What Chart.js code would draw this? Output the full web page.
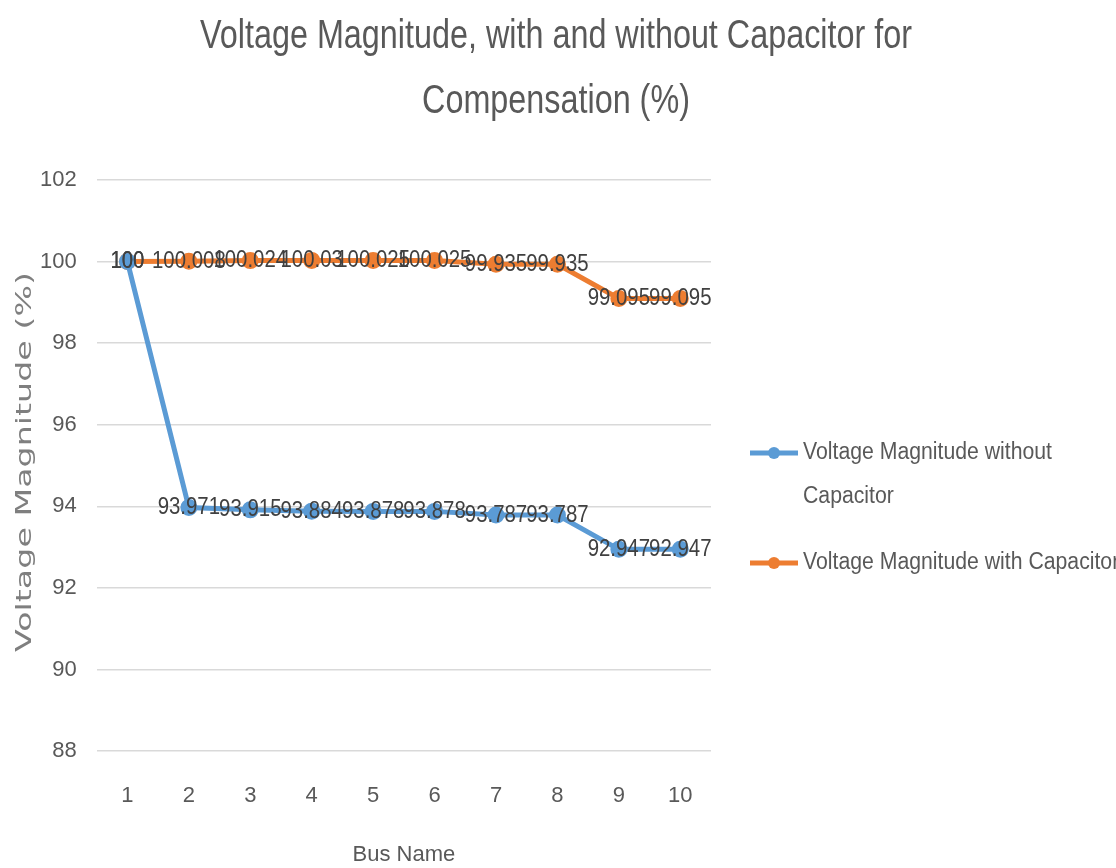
<!DOCTYPE html>
<html>
<head>
<meta charset="utf-8">
<script src="https://cdn.jsdelivr.net/npm/chart.js@4"></script>
<style>
  html, body { margin: 0; padding: 0; background: #fff; }
  #wrap { width: 1116px; height: 868px; }
</style>
</head>
<body>
<div id="wrap"><canvas id="voltageChart" width="1116" height="868"></canvas></div>
<script>
// values
const busNames = ['1', '2', '3', '4', '5', '6', '7', '8', '9', '10'];
const withoutCapacitor = [100, 93.971, 93.915, 93.884, 93.878, 93.878, 93.787, 93.787, 92.947, 92.947];
const withCapacitor = [100, 100.008, 100.024, 100.03, 100.025, 100.025, 99.935, 99.935, 99.095, 99.095];
const seriesNames = ['Voltage Magnitude without Capacitor', 'Voltage Magnitude with Capacitor'];
const legendLines = [['Voltage Magnitude without', 'Capacitor'], ['Voltage Magnitude with Capacitor']];
const titleLines = ['Voltage Magnitude, with and without Capacitor for', 'Compensation (%)'];
const yTitle = 'Voltage Magnitude (%)';

const sans = '"Liberation Sans", Arial, sans-serif';
const textGrey = '#595959';

// text squeezed sideways, the original uses a narrow font
function narrowText(ctx, text, x, y, sx) {
    ctx.save();
    ctx.translate(x, y);
    ctx.scale(sx, 1);
    ctx.fillText(text, 0, 0);
    ctx.restore();
}

// each point's value centred on the point, like the spreadsheet labels
const pointLabels = {
    id: 'pointLabels',
    afterDatasetsDraw(chart) {
        const ctx = chart.ctx;
        ctx.save();
        ctx.font = '24px ' + sans;
        ctx.fillStyle = '#404040';
        ctx.textAlign = 'center';
        ctx.textBaseline = 'middle';
        chart.data.datasets.forEach((ds, i) => {
            chart.getDatasetMeta(i).data.forEach((pt, j) => {
                narrowText(ctx, String(ds.data[j]), pt.x, pt.y, 0.85);
            });
        });
        ctx.restore();
    }
};

// title, rotated axis title and the legend on the right
const decorations = {
    id: 'decorations',
    afterDraw(chart) {
        const ctx = chart.ctx;
        ctx.save();
        ctx.fillStyle = textGrey;
        ctx.textAlign = 'center';
        ctx.textBaseline = 'middle';
        ctx.font = '40px ' + sans;
        const sxTitle = 712 / ctx.measureText(titleLines[0]).width;
        narrowText(ctx, titleLines[0], 556, 37, sxTitle);
        narrowText(ctx, titleLines[1], 556, 102, sxTitle);

        ctx.font = '22px "DejaVu Sans", sans-serif';
        ctx.fillStyle = '#7f7f7f';
        const sxY = 380 / ctx.measureText(yTitle).width;
        ctx.save();
        ctx.translate(25, 462);
        ctx.rotate(-Math.PI / 2);
        narrowText(ctx, yTitle, 0, 0, sxY);
        ctx.restore();

        const rows = [453, 563];
        ctx.font = '23px ' + sans;
        const sxLeg = 249 / ctx.measureText(legendLines[0][0]).width;
        chart.data.datasets.forEach((ds, i) => {
            const y = rows[i];
            ctx.strokeStyle = ds.borderColor;
            ctx.lineWidth = 5;
            ctx.beginPath();
            ctx.moveTo(750, y);
            ctx.lineTo(798, y);
            ctx.stroke();
            ctx.fillStyle = ds.borderColor;
            ctx.beginPath();
            ctx.arc(774, y, 6, 0, Math.PI * 2);
            ctx.fill();
            ctx.fillStyle = textGrey;
            ctx.textAlign = 'left';
            legendLines[i].forEach((line, k) => {
                narrowText(ctx, line, 803, y + k * 44, sxLeg);
            });
        });
        ctx.restore();
    }
};

const ctx = document.getElementById('voltageChart').getContext('2d');
const chart = new Chart(ctx, {
    type: 'line',
    data: {
        labels: busNames,
        datasets: [{
            label: seriesNames[0],
            data: withoutCapacitor,
            borderColor: '#5B9BD5',
            backgroundColor: '#5B9BD5',
            borderWidth: 5,
            pointRadius: 6,
            tension: 0
        }, {
            label: seriesNames[1],
            data: withCapacitor,
            borderColor: '#ED7D31',
            backgroundColor: '#ED7D31',
            borderWidth: 5,
            pointRadius: 6,
            tension: 0
        }]
    },
    options: {
        responsive: false,
        animation: false,
        devicePixelRatio: 1,
        layout: { padding: { left: 20, right: 405, top: 180, bottom: 0 } },
        plugins: {
            legend: { display: false },
            tooltip: { enabled: false },
            title: { display: false }
        },
        scales: {
            x: {
                offset: true,
                grid: { display: false, drawTicks: false },
                border: { display: false },
                ticks: { color: textGrey, font: { family: sans, size: 22 }, padding: 32 },
                title: {
                    display: true,
                    text: 'Bus Name',
                    color: textGrey,
                    font: { family: sans, size: 22 },
                    padding: { top: 0, bottom: 0 }
                }
            },
            y: {
                min: 88,
                max: 102,
                grid: { color: '#d9d9d9', lineWidth: 1.5, drawTicks: false },
                border: { display: false },
                ticks: { stepSize: 2, color: textGrey, font: { family: sans, size: 22 }, padding: 20 }
            }
        }
    },
    plugins: [pointLabels, decorations]
});
</script>
</body>
</html>
